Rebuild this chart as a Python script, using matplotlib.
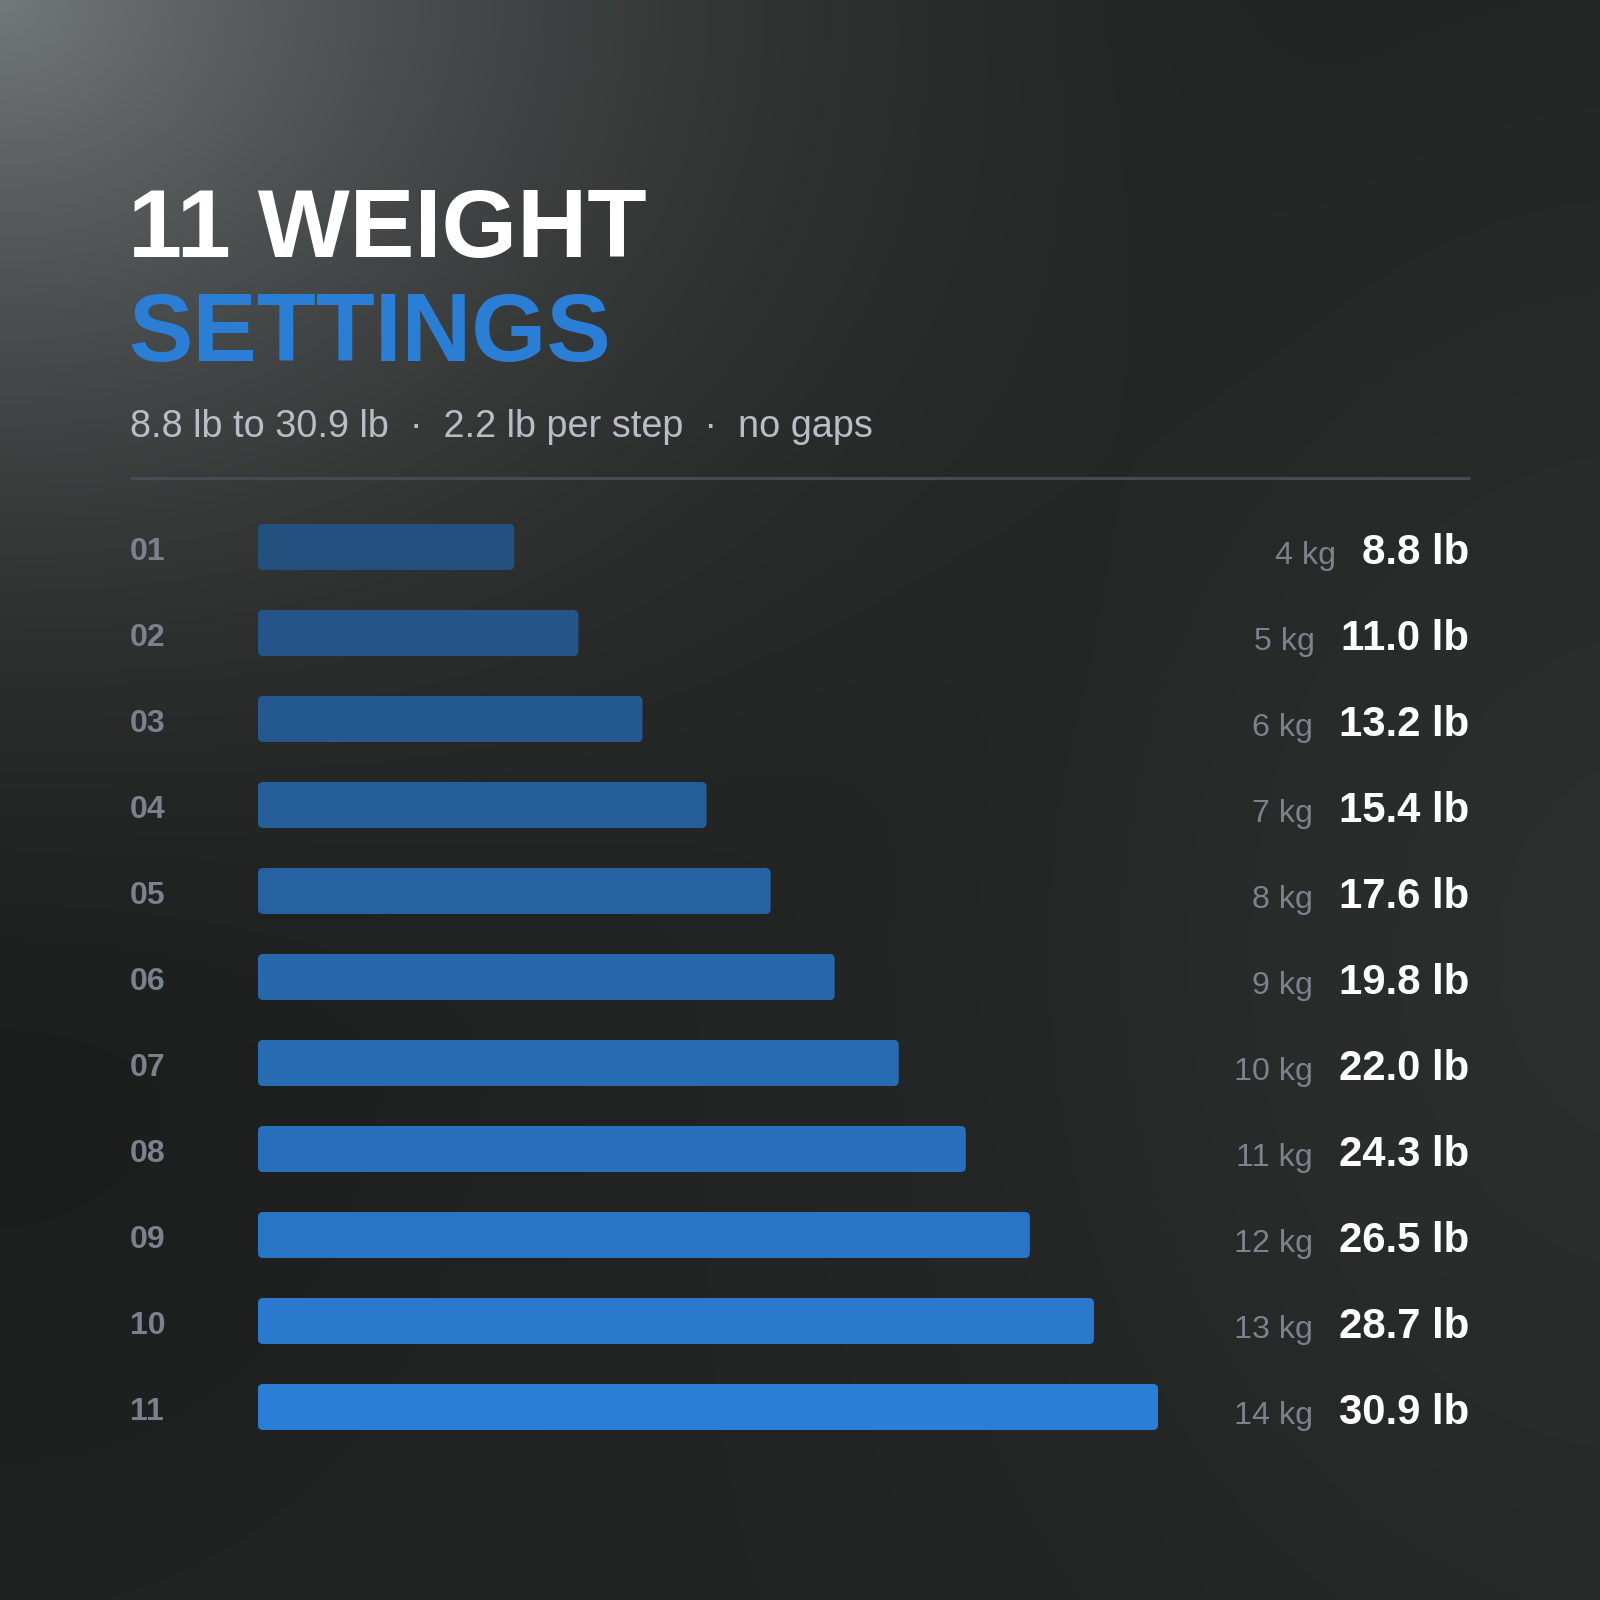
import numpy as np
import matplotlib
matplotlib.use("Agg")
import matplotlib.pyplot as plt
from matplotlib.patches import FancyBboxPatch
from matplotlib.transforms import blended_transform_factory
from matplotlib.colors import to_rgb

# ---- data ----
steps = ["01", "02", "03", "04", "05", "06", "07", "08", "09", "10", "11"]
kg = [4, 5, 6, 7, 8, 9, 10, 11, 12, 13, 14]
lb = [8.8, 11.0, 13.2, 15.4, 17.6, 19.8, 22.0, 24.3, 26.5, 28.7, 30.9]
title_line1 = "11 WEIGHT"
title_line2 = "SETTINGS"
subtitle = "8.8 lb to 30.9 lb  \u00b7  2.2 lb per step  \u00b7  no gaps"

plt.rcParams['font.family'] = ['Liberation Sans', 'DejaVu Sans']

W = H = 1600
fig = plt.figure(figsize=(16, 16), dpi=100)

# ---- background gradient ----
bg = fig.add_axes([0, 0, 1, 1])
bg.set_xlim(0, W)
bg.set_ylim(H, 0)
bg.axis('off')
yy, xx = np.mgrid[0:H:4, 0:W:4].astype(float)
r = np.sqrt((xx / 1.2) ** 2 + yy ** 2)
glow = np.clip(1 - r / 1150.0, 0, 1) ** 2.0
base = np.array([0.130, 0.134, 0.134])
light = np.array([0.45, 0.47, 0.47])
r2 = np.sqrt((xx - 1650) ** 2 + ((yy - 950) * 0.8) ** 2)
glow2 = np.exp(-(r2 / 650.0) ** 2) * 0.045
r3 = np.sqrt(xx ** 2 + ((yy - 1000) * 0.9) ** 2)
dark = np.exp(-(r3 / 450.0) ** 2) * 0.02
img = (base[None, None, :] + glow[..., None] * (light - base)[None, None, :]
       + glow2[..., None] - dark[..., None])
img = np.clip(img, 0, 1)
bg.imshow(img, extent=[0, W, H, 0], aspect='auto', interpolation='bilinear', zorder=0)

# ---- titles ----
bg.text(128, 257, title_line1, fontsize=70, fontweight='bold', color='white',
        ha='left', va='baseline')
bg.text(128, 361, title_line2, fontsize=69.5, fontweight='bold', color='#2b7ed6',
        ha='left', va='baseline')
bg.text(130, 437, subtitle, fontsize=27.3, color='#b9bdc5', ha='left', va='baseline')
bg.plot([130, 1470], [478, 478], color='#464a51', lw=2.2, solid_capstyle='butt')

# ---- bars ----
bar_left, bar_w = 258, 900
top, bot = 504, 1450
ax = fig.add_axes([bar_left / W, 1 - bot / H, bar_w / W, (bot - top) / H])
ax.set_xlim(0, max(lb))
ax.set_ylim(len(lb) - 0.5, -0.5)
ax.axis('off')
ax.patch.set_alpha(0)

c0 = np.array(to_rgb('#22507f'))
c1 = np.array(to_rgb('#2b7ed6'))
n = len(lb)
bh = 46 / 86.0
xpp = max(lb) / bar_w          # data-x per pixel
ypp = 1.0 / 86.0               # data-y per pixel
for i, v in enumerate(lb):
    col = c0 + (c1 - c0) * i / (n - 1)
    p = FancyBboxPatch((0, i - bh / 2), v, bh,
                       boxstyle=f"round,pad=0,rounding_size={5 * xpp}",
                       mutation_aspect=ypp / xpp,
                       facecolor=col, edgecolor='none', zorder=3)
    ax.add_patch(p)

# ---- labels ----
tr = blended_transform_factory(bg.transData, ax.transData)
for i in range(n):
    ax.text(130, i + 13 / 86.0, steps[i], transform=tr, fontsize=23,
            fontweight='bold', color='#7b818d', ha='left', va='baseline')
    t = ax.text(1469, i + 17 / 86.0, f"{lb[i]:.1f} lb", transform=tr, fontsize=30.2,
                fontweight='bold', color='white', ha='right', va='baseline')
    ax.annotate(f"{kg[i]} kg", xy=(0, i + 17 / 86.0), xycoords=(t, ax.transData),
                xytext=(-26, 0), textcoords='offset pixels', fontsize=23.2,
                color='#7c818c', ha='right', va='baseline')

fig.savefig("out.png", dpi=100)
